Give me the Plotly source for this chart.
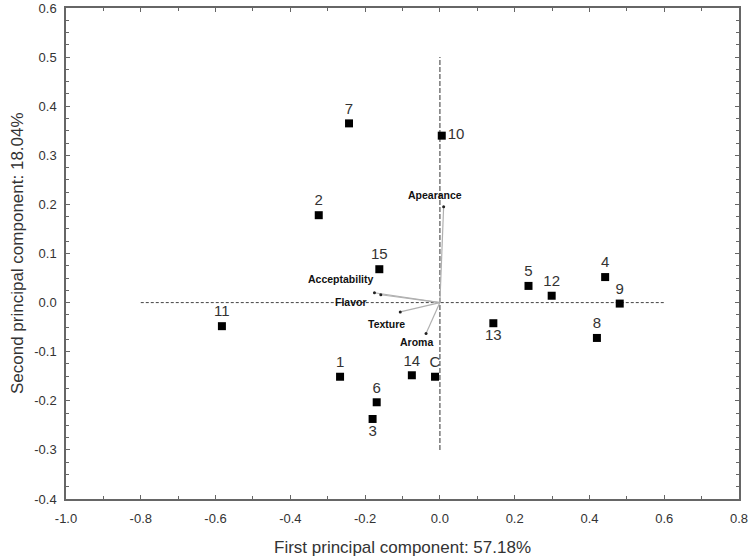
import plotly.graph_objects as go

# Sample scores
sample_labels = ["1", "2", "3", "4", "5", "6", "7", "8", "9", "10", "11", "12", "13", "14", "15", "C"]
sample_pc1 = [-0.267, -0.324, -0.180, 0.442, 0.237, -0.169, -0.243, 0.420, 0.481, 0.005, -0.583, 0.299, 0.143, -0.075, -0.162, -0.013]
sample_pc2 = [-0.151, 0.178, -0.237, 0.052, 0.034, -0.203, 0.365, -0.072, -0.002, 0.340, -0.048, 0.014, -0.042, -0.148, 0.068, -0.151]
sample_label_pos = ["top center", "top center", "bottom center", "top center", "top center", "top center",
                    "top center", "top center", "top center", "middle right", "top center", "top center",
                    "bottom center", "top center", "top center", "top center"]

# Attribute loadings
attr_labels = ["Apearance", "Acceptability", "Flavor", "Texture", "Aroma"]
attr_pc1 = [0.010, -0.175, -0.158, -0.106, -0.037]
attr_pc2 = [0.195, 0.020, 0.016, -0.019, -0.063]
attr_xshift = [-9, 2, -12, -14, -10]
attr_yshift = [12, 14, -7, -12, -8]
attr_xanchor = ["center", "right", "right", "center", "center"]

# Reference axis lines
ref_h_x = [-0.8, 0.6]
ref_v_y = [-0.3, 0.5]

x_ticks = [-1.0, -0.8, -0.6, -0.4, -0.2, 0.0, 0.2, 0.4, 0.6, 0.8]
y_ticks = [-0.4, -0.3, -0.2, -0.1, 0.0, 0.1, 0.2, 0.3, 0.4, 0.5, 0.6]
x_ticktext = ["%.1f" % v for v in x_ticks]
y_ticktext = ["%.1f" % v for v in y_ticks]

x_title = "First principal component: 57.18%"
y_title = "Second principal component: 18.04%"

FONT = "Arial, Liberation Sans, sans-serif"

fig = go.Figure()

# Dashed reference lines
fig.add_trace(go.Scatter(x=ref_h_x, y=[0, 0], mode="lines",
                         line=dict(color="#444444", width=1, dash="3px,2px"),
                         hoverinfo="skip", showlegend=False))
fig.add_trace(go.Scatter(x=[0, 0], y=ref_v_y, mode="lines",
                         line=dict(color="#777777", width=1.5, dash="5px,2px"),
                         hoverinfo="skip", showlegend=False))

# Loading vectors
for xv, yv in zip(attr_pc1, attr_pc2):
    fig.add_trace(go.Scatter(x=[0, xv], y=[0, yv], mode="lines",
                             line=dict(color="#b0b0b0", width=1.2),
                             hoverinfo="skip", showlegend=False))
fig.add_trace(go.Scatter(x=attr_pc1, y=attr_pc2, mode="markers",
                         marker=dict(color="#222222", size=3),
                         hoverinfo="skip", showlegend=False))
for lab, xv, yv, xs, ys, xa in zip(attr_labels, attr_pc1, attr_pc2, attr_xshift, attr_yshift, attr_xanchor):
    fig.add_annotation(x=xv, y=yv, text="<b>" + lab + "</b>", showarrow=False,
                       xshift=xs, yshift=ys, xanchor=xa, yanchor="middle",
                       font=dict(family=FONT, size=10.5, color="#111111"))

# Sample points
fig.add_trace(go.Scatter(x=sample_pc1, y=sample_pc2, mode="markers+text",
                         text=sample_labels, textposition=sample_label_pos,
                         textfont=dict(family=FONT, size=15, color="#333333"),
                         marker=dict(symbol="square", color="#000000", size=8),
                         showlegend=False))

axis_common = dict(showline=True, linecolor="#666666", linewidth=1.5, mirror="allticks",
                   ticks="inside", ticklen=4, tickcolor="#666666", tickwidth=1,
                   showgrid=False, zeroline=False, automargin=False,
                   tickfont=dict(family=FONT, size=13, color="#333333"))

fig.update_xaxes(range=[-1.0, 0.8], tickvals=x_ticks, ticktext=x_ticktext, ticklabelstandoff=7,
                 minor=dict(dtick=0.1, tick0=0, ticks="inside", ticklen=3, tickcolor="#666666", showgrid=False),
                 **axis_common)
fig.update_yaxes(range=[-0.4, 0.6], tickvals=y_ticks, ticktext=y_ticktext, ticklabelstandoff=5,
                 minor=dict(dtick=0.025, tick0=0, ticks="inside", ticklen=3, tickcolor="#666666", showgrid=False),
                 **axis_common)

# Axis titles
fig.add_annotation(xref="paper", yref="paper", x=0.5, y=-0.098, yanchor="middle", xanchor="center",
                   text=x_title, showarrow=False, font=dict(family=FONT, size=17, color="#333333"))
fig.add_annotation(xref="paper", yref="paper", x=-0.072, y=0.5, xanchor="center", yanchor="middle",
                   text=y_title, textangle=-90, showarrow=False, font=dict(family=FONT, size=17, color="#333333"))

fig.update_layout(width=750, height=560, margin=dict(l=66, r=11, t=8, b=61, autoexpand=False),
                  plot_bgcolor="white", paper_bgcolor="white",
                  font=dict(family=FONT))

fig.write_html("out.html", config={"displayModeBar": False},
               post_script="document.body.style.margin='0';")
